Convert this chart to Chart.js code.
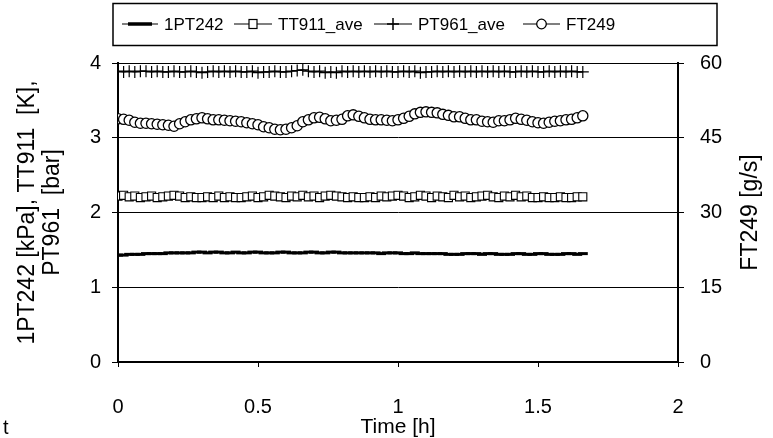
<!DOCTYPE html>
<html>
<head>
<meta charset="utf-8">
<script src="https://cdn.jsdelivr.net/npm/chart.js@4.4.1/dist/chart.umd.min.js"></script>
<style>
html,body{margin:0;padding:0;background:#fff;}
#wrap{width:773px;height:438px;}
</style>
</head>
<body>
<div id="wrap"><canvas id="c" width="773" height="438"></canvas></div>
<script>
// ---- data ----
const seriesNames = ['1PT242', 'TT911_ave', 'PT961_ave', 'FT249'];
const timeH = [
  0.00,0.02,0.04,0.06,0.08,0.10,0.12,0.14,0.16,0.18,
  0.20,0.22,0.24,0.26,0.28,0.30,0.32,0.34,0.36,0.38,
  0.40,0.42,0.44,0.46,0.48,0.50,0.52,0.54,0.56,0.58,
  0.60,0.62,0.64,0.66,0.68,0.70,0.72,0.74,0.76,0.78,
  0.80,0.82,0.84,0.86,0.88,0.90,0.92,0.94,0.96,0.98,
  1.00,1.02,1.04,1.06,1.08,1.10,1.12,1.14,1.16,1.18,
  1.20,1.22,1.24,1.26,1.28,1.30,1.32,1.34,1.36,1.38,
  1.40,1.42,1.44,1.46,1.48,1.50,1.52,1.54,1.56,1.58,
  1.60,1.62,1.64,1.66
];
const pt242 = [
  1.43,1.43,1.44,1.44,1.44,1.45,1.45,1.45,1.45,1.46,
  1.46,1.46,1.46,1.46,1.47,1.47,1.46,1.47,1.47,1.46,
  1.46,1.47,1.46,1.46,1.47,1.47,1.46,1.46,1.46,1.47,
  1.47,1.46,1.46,1.46,1.47,1.47,1.46,1.46,1.47,1.47,
  1.46,1.46,1.46,1.46,1.46,1.46,1.46,1.45,1.46,1.46,
  1.46,1.45,1.45,1.46,1.45,1.45,1.45,1.45,1.45,1.44,
  1.44,1.44,1.45,1.45,1.45,1.44,1.45,1.45,1.44,1.44,
  1.44,1.45,1.45,1.44,1.44,1.45,1.45,1.44,1.44,1.44,
  1.45,1.45,1.44,1.45
];
const tt911 = [
  2.22,2.23,2.21,2.22,2.20,2.21,2.22,2.20,2.21,2.22,
  2.23,2.22,2.20,2.21,2.20,2.20,2.21,2.20,2.22,2.20,
  2.21,2.20,2.20,2.21,2.22,2.20,2.21,2.23,2.22,2.21,
  2.20,2.22,2.21,2.23,2.21,2.22,2.20,2.22,2.23,2.22,
  2.21,2.20,2.21,2.20,2.20,2.21,2.20,2.22,2.21,2.22,
  2.23,2.22,2.20,2.21,2.23,2.22,2.20,2.22,2.21,2.20,
  2.23,2.21,2.22,2.20,2.21,2.22,2.23,2.21,2.20,2.22,
  2.21,2.23,2.21,2.22,2.20,2.20,2.21,2.20,2.20,2.21,
  2.20,2.20,2.21,2.21
];
const pt961 = [
  3.89,3.88,3.89,3.88,3.89,3.89,3.88,3.89,3.88,3.88,
  3.89,3.88,3.88,3.89,3.88,3.87,3.88,3.89,3.88,3.89,
  3.88,3.89,3.88,3.88,3.89,3.87,3.88,3.88,3.89,3.88,
  3.88,3.89,3.90,3.91,3.89,3.88,3.89,3.87,3.88,3.87,
  3.89,3.88,3.89,3.88,3.89,3.88,3.89,3.88,3.89,3.88,
  3.88,3.89,3.88,3.89,3.87,3.88,3.88,3.89,3.88,3.89,
  3.88,3.89,3.88,3.89,3.88,3.89,3.88,3.89,3.88,3.89,
  3.88,3.88,3.89,3.88,3.89,3.88,3.88,3.89,3.88,3.89,
  3.88,3.89,3.88,3.88
];
const ft249 = [
  48.8,48.7,48.5,48.1,47.9,47.9,47.8,47.7,47.6,47.5,
  47.3,47.8,48.2,48.6,48.8,49.0,48.8,48.6,48.6,48.5,
  48.4,48.3,48.2,48.0,47.8,47.6,47.2,47.0,46.7,46.6,
  46.7,47.0,47.4,48.2,48.6,49.0,49.1,48.8,48.4,48.5,
  48.7,49.4,49.6,49.3,49.0,48.7,48.6,48.6,48.5,48.4,
  48.6,48.9,49.3,49.8,50.1,50.2,50.1,50.0,49.7,49.5,
  49.2,49.2,48.9,48.6,48.6,48.3,48.2,48.1,48.4,48.4,
  48.6,48.9,48.7,48.5,48.2,48.0,47.9,48.1,48.3,48.4,
  48.6,48.7,49.0,49.4
];
const xTicks = [0, 0.5, 1, 1.5, 2];
const yLeftTicks = [0, 1, 2, 3, 4];
const yRightTicks = [0, 15, 30, 45, 60];
const xTitle = 'Time [h]';
const yLeftTitle = ['1PT242 [kPa], TT911  [K],', 'PT961  [bar]'];
const yRightTitle = 'FT249 [g/s]';
const strayText = 't';

// ---- chart ----
const FONT = "'Liberation Sans', Arial, sans-serif";
const FS_TICK = 20, FS_XTITLE = 21, FS_YTITLE = 23, FS_LEG = 17;
const pts = arr => timeH.map((t, i) => ({x: t, y: arr[i]}));

function fixW(w){ return s => { s.width = w; }; }
function fixH(h){ return s => { s.height = h; }; }

const legendPlugin = {
  id: 'excelLegend',
  afterDraw(chart) {
    const ctx = chart.ctx;
    ctx.save();
    ctx.strokeStyle = '#000';
    ctx.lineWidth = 1.5;
    ctx.strokeRect(113, 3.5, 604, 42);
    const cy = 24;
    const items = [
      {x1: 122, x2: 158, tx: 164, mk: 'dash'},
      {x1: 234, x2: 272, tx: 278, mk: 'rect'},
      {x1: 374, x2: 412, tx: 418, mk: 'cross'},
      {x1: 523, x2: 560, tx: 566, mk: 'circle'}
    ];
    ctx.font = FS_LEG + 'px ' + FONT;
    ctx.textBaseline = 'middle';
    ctx.textAlign = 'left';
    items.forEach((it, k) => {
      ctx.strokeStyle = '#000';
      ctx.lineWidth = 1.2;
      ctx.beginPath(); ctx.moveTo(it.x1, cy); ctx.lineTo(it.x2, cy); ctx.stroke();
      const mx = (it.x1 + it.x2) / 2;
      if (it.mk === 'dash') {
        ctx.lineWidth = 3.5;
        ctx.beginPath(); ctx.moveTo(mx - 12, cy); ctx.lineTo(mx + 12, cy); ctx.stroke();
      } else if (it.mk === 'rect') {
        ctx.fillStyle = '#fff'; ctx.lineWidth = 1.2;
        ctx.fillRect(mx - 4, cy - 4.5, 8, 9); ctx.strokeRect(mx - 4, cy - 4.5, 8, 9);
      } else if (it.mk === 'cross') {
        ctx.lineWidth = 1.5;
        ctx.beginPath(); ctx.moveTo(mx, cy - 6); ctx.lineTo(mx, cy + 6);
        ctx.moveTo(mx - 6, cy); ctx.lineTo(mx + 6, cy); ctx.stroke();
      } else {
        ctx.fillStyle = '#fff'; ctx.lineWidth = 1.3;
        ctx.beginPath(); ctx.arc(mx, cy, 4.8, 0, Math.PI * 2); ctx.fill(); ctx.stroke();
      }
      ctx.fillStyle = '#000';
      ctx.fillText(seriesNames[k], it.tx, cy + 1);
    });
    // stray text at bottom-left of the reference
    ctx.font = FS_TICK + 'px ' + FONT;
    ctx.fillText(strayText, 3, 428);
    // right axis title, reading bottom-to-top
    const area = chart.chartArea;
    ctx.font = FS_YTITLE + 'px ' + FONT;
    ctx.translate(751, (area.top + area.bottom) / 2);
    ctx.rotate(-Math.PI / 2);
    ctx.textAlign = 'center';
    ctx.fillText(yRightTitle, 0, 0);
    ctx.restore();
  }
};

const tickFmt = v => String(v);

new Chart(document.getElementById('c'), {
  type: 'line',
  data: {
    datasets: [
      {label: seriesNames[0], data: pts(pt242), yAxisID: 'y',
       borderColor: '#000', borderWidth: 1.5, pointStyle: 'line',
       pointRadius: 5, pointBorderWidth: 3, pointBorderColor: '#000', pointBackgroundColor: '#000'},
      {label: seriesNames[1], data: pts(tt911), yAxisID: 'y',
       borderColor: '#000', borderWidth: 1, pointStyle: 'rect',
       pointRadius: 5.7, pointBorderWidth: 1.1, pointBorderColor: '#000', pointBackgroundColor: '#fff'},
      {label: seriesNames[2], data: pts(pt961), yAxisID: 'y',
       borderColor: '#000', borderWidth: 1, pointStyle: 'cross',
       pointRadius: 6, pointBorderWidth: 1.2, pointBorderColor: '#000', pointBackgroundColor: '#000'},
      {label: seriesNames[3], data: pts(ft249), yAxisID: 'y2',
       borderColor: '#000', borderWidth: 1, pointStyle: 'circle',
       pointRadius: 5.1, pointBorderWidth: 1.3, pointBorderColor: '#000', pointBackgroundColor: '#fff'}
    ]
  },
  options: {
    responsive: false,
    animation: false,
    devicePixelRatio: 1,
    layout: {padding: {top: 63, left: 0, right: 0, bottom: 0}},
    plugins: {legend: {display: false}, tooltip: {enabled: false}},
    elements: {line: {tension: 0}},
    scales: {
      x: {
        type: 'linear', min: 0, max: 2,
        afterFit: fixH(76),
        afterBuildTicks: s => { s.ticks = xTicks.map(v => ({value: v})); },
        grid: {display: true, drawOnChartArea: false, drawTicks: true, tickLength: 5, color: '#000', lineWidth: 1},
        border: {display: true, color: '#000', width: 2},
        ticks: {color: '#000', font: {family: FONT, size: FS_TICK}, padding: 28, maxRotation: 0, callback: tickFmt},
        title: {display: true, text: xTitle, color: '#000', font: {family: FONT, size: FS_XTITLE, lineHeight: 1.0}, padding: {top: 0, bottom: 0}}
      },
      y: {
        type: 'linear', position: 'left', min: 0, max: 4,
        afterFit: fixW(118),
        afterBuildTicks: s => { s.ticks = yLeftTicks.map(v => ({value: v})); },
        grid: {color: '#000', lineWidth: 1, drawTicks: true, tickLength: 6},
        border: {display: true, color: '#000', width: 2},
        ticks: {color: '#000', font: {family: FONT, size: FS_TICK}, padding: 11, callback: tickFmt},
        title: {display: true, text: yLeftTitle, color: '#000', font: {family: FONT, size: FS_YTITLE, lineHeight: 1.08}, padding: {top: 15, bottom: 0}}
      },
      y2: {
        type: 'linear', position: 'right', min: 0, max: 60,
        afterFit: fixW(95),
        afterBuildTicks: s => { s.ticks = yRightTicks.map(v => ({value: v})); },
        grid: {drawOnChartArea: false, color: '#000', lineWidth: 1, drawTicks: true, tickLength: 6},
        border: {display: true, color: '#000', width: 2},
        ticks: {color: '#000', font: {family: FONT, size: FS_TICK}, padding: 16, callback: tickFmt},
        title: {display: false}
      }
    }
  },
  plugins: [legendPlugin]
});
</script>
</body>
</html>
